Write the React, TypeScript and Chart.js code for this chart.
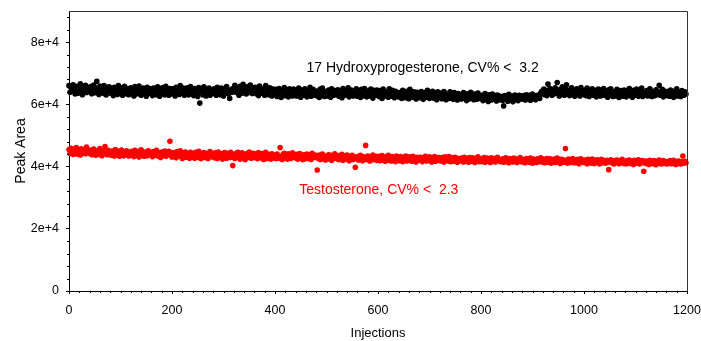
import React, { useEffect, useRef } from 'react';
import { Chart, registerables } from 'chart.js';

Chart.register(...registerables);

// Injection spacing between plotted samples
const injectionStep = 2;

// 17 Hydroxyprogesterone peak areas (one value every 2 injections, 0..1198)
const hydroxyprogesterone = [
  66000, 63900, 65400, 64200, 66300, 64700, 63300, 65800, 64900, 63600, 65100, 66600, 64000, 63100, 65500, 64400, 66100, 63800, 64800, 65300,
  64100, 65700, 63400, 64900, 66200, 63700, 65200, 67400, 64500, 63200, 65900, 64300, 65000, 63600, 66000, 64700, 63000, 65400, 64200, 65600,
  63600, 65100, 64400, 62800, 65500, 63900, 64700, 63200, 66000, 64200, 63500, 65300, 62900, 64600, 65800, 63400, 64100, 65000, 63100, 64800,
  65300, 63500, 64400, 62700, 65700, 64000, 63300, 64900, 65900, 63700, 62900, 64600, 65200, 63800, 64300, 62600, 65500, 64100, 63600, 65000,
  64300, 62800, 65200, 63900, 64700, 63100, 65600, 64000, 62600, 64900, 63500, 65400, 64200, 63000, 65800, 63700, 64500, 62900, 65100, 64400,
  63400, 65000, 64200, 62700, 65500, 63800, 64600, 63200, 66000, 64100, 63600, 65200, 62900, 64700, 63900, 65300, 63000, 64400, 65700, 63500,
  64200, 62800, 65100, 63600, 64500, 62500, 65400, 60400, 63900, 64800, 63100, 65600, 63700, 62700, 64900, 63400, 65200, 62900, 64300, 63800,
  63500, 65000, 64300, 62900, 65500, 63800, 64600, 63100, 65200, 64100, 62700, 64900, 63600, 65700, 64200, 63300, 61900, 64700, 63900, 65100,
  64800, 66100, 63900, 65300, 64400, 62900, 65800, 64700, 63600, 66400, 64100, 65000, 63300, 65600, 64500, 63800, 66200, 64900, 63500, 65400,
  64000, 65500, 63400, 64700, 62800, 65900, 64300, 63600, 65100, 64200, 62900, 66000, 63800, 64600, 63100, 65300, 64400, 62700, 64900, 63900,
  63200, 64800, 62500, 63900, 65100, 63400, 62200, 64500, 63700, 65400, 62800, 64100, 63300, 62400, 65000, 63600, 64300, 62700, 64900, 63100,
  64400, 62700, 63800, 65200, 63100, 62300, 64600, 63500, 62900, 65000, 63900, 62400, 64200, 63300, 65500, 62600, 63700, 64800, 63000, 64100,
  62800, 64300, 63600, 62200, 64900, 63100, 65200, 63800, 62500, 64100, 63300, 62700, 64600, 63900, 62300, 65000, 63400, 62900, 64400, 63700,
  63200, 64700, 62600, 64000, 63500, 62100, 65100, 63800, 62900, 64400, 63300, 65300, 62400, 63900, 64600, 63000, 62700, 64200, 63600, 65000,
  62600, 64100, 63500, 62200, 64800, 63100, 62800, 65100, 63700, 62400, 64300, 63300, 62700, 64900, 63900, 62000, 64500, 63200, 62900, 64600,
  63800, 62500, 64400, 63100, 61900, 64900, 63300, 62700, 64100, 63600, 62300, 65000, 63200, 62600, 64500, 63900, 62100, 64200, 63000, 63700,
  62400, 63800, 63000, 61900, 64500, 62700, 63400, 62100, 64200, 63300, 61800, 64800, 62900, 63600, 62300, 64000, 63100, 61700, 63900, 62600,
  63400, 62100, 64100, 62700, 61600, 63800, 62900, 62300, 64500, 63100, 61900, 63600, 62500, 64200, 62000, 63300, 62800, 61500, 64000, 62600,
  62200, 63600, 61800, 62900, 64100, 62400, 61500, 63300, 62800, 61900, 64000, 62500, 63100, 61600, 63800, 62300, 62900, 61400, 63500, 62100,
  63000, 61700, 62600, 63800, 61900, 62300, 61200, 63400, 62700, 61800, 63900, 62100, 62800, 61500, 63300, 62400, 61600, 63600, 62000, 62900,
  61800, 62900, 61200, 62500, 63500, 61600, 62200, 60900, 63100, 62000, 61400, 63300, 62400, 61700, 62800, 61100, 63000, 62300, 61500, 62600,
  62400, 61300, 59500, 62800, 61700, 62100, 61000, 63200, 62300, 61500, 62700, 60800, 62000, 63000, 61600, 62500, 61200, 62900, 61800, 62200,
  61700, 62800, 62100, 61400, 63100, 62400, 61800, 62900, 61300, 62600, 63300, 61900, 62200, 61500, 62800, 62400, 63000, 61900, 63600, 64200,
  63400, 64900, 63100, 64400, 62800, 66500, 63700, 65100, 63900, 62900, 64600, 63300, 65300, 64100, 67000, 63500, 62700, 64800, 63800, 65600,
  64200, 62900, 65100, 66300, 63600, 64500, 62800, 64000, 65300, 63300, 64700, 62600, 63900, 65000, 63500, 64300, 62700, 65400, 63800, 64100,
  63100, 64600, 62800, 65200, 63700, 62500, 64100, 63400, 65000, 62900, 63800, 64500, 62400, 63600, 64900, 63200, 62700, 64300, 63500, 65100,
  62900, 64200, 63600, 62300, 64700, 63100, 65000, 63800, 62500, 64000, 63300, 62700, 64800, 63900, 62200, 63500, 64400, 63000, 62600, 64600,
  63700, 62400, 64300, 63200, 65100, 62800, 63900, 62300, 64500, 63500, 62900, 64900, 63100, 62600, 64100, 63800, 65200, 62500, 63400, 64000,
  63000, 64400, 62700, 63800, 65000, 63300, 62500, 64100, 63600, 62800, 64700, 63200, 64000, 66100, 62900, 63500, 64800, 62400, 63700, 64200,
  62800, 64100, 63400, 62600, 64600, 63000, 63700, 62300, 64300, 63200, 65000, 62700, 63900, 63100, 62500, 64400, 63600, 62900, 64000, 63300,
];

// Testosterone peak areas (one value every 2 injections, 0..1198)
const testosterone = [
  45500, 44200, 45900, 44700, 43900, 45300, 44500, 46100, 44000, 45100, 44600, 43700, 45700, 44900, 44300, 45400, 44100, 46300, 44800, 45000,
  44200, 45300, 43800, 44900, 45600, 44000, 43600, 45100, 44700, 43900, 45800, 44400, 43500, 45000, 44600, 46400, 44100, 43800, 45200, 44500,
  44800, 43600, 45000, 44100, 43400, 45500, 44300, 43800, 44900, 43300, 44600, 45300, 44000, 43500, 44700, 43900, 45100, 44200, 43400, 44500,
  43700, 44900, 44100, 43200, 45200, 44400, 43600, 44800, 43100, 44300, 45400, 43800, 44000, 43300, 44700, 44200, 43500, 45100, 43900, 44600,
  44300, 43200, 44800, 43700, 44100, 45200, 43400, 44500, 43900, 42900, 44700, 43600, 44200, 45000, 43300, 44400, 43800, 44900, 48100, 43500,
  43100, 44500, 43700, 44000, 42800, 44800, 43400, 43900, 45100, 43200, 42600, 44300, 43600, 44700, 43000, 44100, 43500, 42700, 44600, 43800,
  44200, 43300, 42700, 44600, 43600, 43000, 44900, 43800, 42500, 44100, 43400, 44500, 42900, 43700, 44300, 42600, 43900, 44800, 43200, 43500,
  43900, 42800, 44400, 43300, 42600, 44700, 43600, 43000, 44100, 42400, 43800, 44500, 43100, 42700, 44300, 43500, 42900, 44600, 43200, 40300,
  43700, 42600, 44200, 43000, 44600, 43300, 42400, 43900, 44400, 42800, 43500, 42200, 44100, 43600, 42900, 44700, 43200, 42700, 43800, 44300,
  42900, 44000, 43400, 42500, 44500, 43100, 42800, 43700, 44200, 42300, 43600, 44600, 43000, 42600, 43900, 43300, 42400, 44100, 43500, 42800,
  43600, 42500, 44000, 43100, 42700, 46100, 43400, 42300, 43900, 44300, 42800, 43200, 42400, 44100, 43700, 42600, 43300, 44400, 42900, 43500,
  42800, 43900, 42400, 43500, 44200, 42700, 43100, 42200, 43800, 43300, 42500, 44000, 43000, 42600, 43600, 42300, 44300, 43200, 42900, 43700,
  43300, 38900, 42600, 43700, 42300, 43000, 44000, 42500, 43400, 42100, 43100, 42800, 43800, 42400, 43600, 42000, 43200, 42700, 44100, 42900,
  42500, 43500, 42200, 43100, 42700, 43900, 42000, 42900, 43400, 42400, 43700, 42600, 41900, 43200, 42800, 43600, 42300, 43000, 39800, 42700,
  43200, 42100, 42800, 43600, 42400, 41900, 43100, 42600, 46800, 42300, 43400, 42700, 41800, 43000, 42500, 43700, 42200, 42900, 43300, 42000,
  42300, 43300, 41900, 42800, 43500, 42100, 42600, 41700, 43100, 42400, 43600, 42000, 42700, 41800, 43200, 42500, 42900, 41600, 43400, 42200,
  42800, 41900, 43200, 42300, 41600, 42900, 42500, 43400, 41800, 42600, 42100, 43100, 42400, 41700, 43300, 42200, 42700, 41500, 43000, 42600,
  42100, 43000, 42500, 41600, 42900, 42200, 43300, 41800, 42600, 42000, 43100, 42400, 41500, 42800, 42300, 43200, 41700, 42700, 42100, 42900,
  42600, 41800, 42900, 42200, 41500, 43100, 42400, 41900, 42700, 43200, 41600, 42300, 42800, 41700, 42500, 43000, 42000, 41400, 42600, 42300,
  41900, 42700, 42300, 41500, 43000, 42100, 41800, 42600, 41400, 42900, 42200, 41700, 42800, 42400, 41300, 42500, 42000, 43100, 41600, 42300,
  42500, 41600, 42200, 42900, 41400, 42000, 42700, 41800, 42400, 41300, 42800, 42100, 41700, 42600, 41500, 42300, 43000, 41900, 42100, 41600,
  41700, 42500, 41400, 42200, 42800, 41600, 42000, 41200, 42600, 41900, 42300, 41500, 42700, 41800, 42100, 41300, 42400, 41900, 42900, 41600,
  42300, 41500, 42000, 41200, 42600, 41800, 42200, 41400, 42700, 41700, 41100, 42400, 41900, 42100, 41300, 42500, 41600, 42000, 42800, 41500,
  41600, 42300, 41200, 42000, 42600, 41400, 41900, 42500, 41100, 42200, 41700, 42400, 41300, 41800, 42700, 41500, 42100, 41000, 42300, 41900,
  42200, 41400, 45800, 41800, 41100, 42400, 41600, 42000, 41300, 42600, 41700, 41200, 42100, 41500, 42300, 40900, 41900, 42500, 41400, 41800,
  41300, 42100, 41700, 40900, 42300, 41500, 41900, 41100, 42400, 41600, 41000, 42000, 41400, 42200, 41800, 40800, 41600, 42300, 41200, 41900,
  41800, 41100, 42000, 41400, 39000, 41700, 42200, 41200, 41600, 40800, 41900, 41300, 42100, 41500, 40900, 41800, 41200, 42300, 41400, 41000,
  41600, 40900, 41900, 41300, 42100, 41000, 41500, 41800, 40700, 42000, 41400, 41100, 41700, 42200, 40800, 41600, 41200, 41900, 38500, 41300,
  41000, 41800, 41400, 40700, 42000, 41200, 41600, 40900, 41900, 41300, 40600, 41700, 41100, 42100, 41400, 40800, 41500, 41900, 41000, 41600,
  41500, 40800, 41700, 41100, 41900, 40900, 41400, 42000, 41200, 40700, 41600, 41000, 41800, 41300, 40800, 41500, 43400, 41100, 41700, 41200,
];

const xTicks = [0, 200, 400, 600, 800, 1000, 1200];
const yTicks = [0, 20000, 40000, 60000, 80000];
const yTickLabels = ['0', '2e+4', '4e+4', '6e+4', '8e+4'];
const xMinorStep = 20;
const yMinorStep = 4000;

const annotations = [
  { text: '17 Hydroxyprogesterone, CV% <  3.2', x: 461, y: 70400, color: '#000000' },
  { text: 'Testosterone, CV% <  2.3', x: 447, y: 31300, color: '#ff0000' },
];

const FONT = '"Liberation Sans", Arial, Helvetica, sans-serif';

const decorPlugin = {
  id: 'decor',
  afterDraw(chart: any) {
    const { ctx, chartArea: ca, scales } = chart;
    const x = scales.x;
    const y = scales.y;
    ctx.save();
    // frame top & right
    ctx.strokeStyle = '#333333';
    ctx.lineWidth = 1;
    ctx.beginPath();
    ctx.moveTo(ca.left, Math.round(ca.top) + 0.5);
    ctx.lineTo(Math.round(ca.right) + 0.5, Math.round(ca.top) + 0.5);
    ctx.lineTo(Math.round(ca.right) + 0.5, ca.bottom);
    ctx.stroke();
    // minor ticks
    ctx.strokeStyle = '#000000';
    ctx.beginPath();
    for (let v = 0; v <= x.max; v += xMinorStep) {
      if (xTicks.includes(v)) continue;
      const px = Math.round(x.getPixelForValue(v)) + 0.5;
      ctx.moveTo(px, ca.bottom);
      ctx.lineTo(px, ca.bottom + 2);
    }
    for (let v = 0; v < y.max; v += yMinorStep) {
      if (yTicks.includes(v)) continue;
      const py = Math.round(y.getPixelForValue(v)) + 0.5;
      ctx.moveTo(ca.left - 2, py);
      ctx.lineTo(ca.left, py);
    }
    ctx.stroke();
    // annotations
    ctx.font = `14px ${FONT}`;
    ctx.textAlign = 'left';
    ctx.textBaseline = 'alphabetic';
    annotations.forEach((a) => {
      ctx.fillStyle = a.color;
      ctx.fillText(a.text, x.getPixelForValue(a.x), y.getPixelForValue(a.y));
    });
    ctx.restore();
  },
};

const zeroPadding = (s: any) => {
  s.paddingTop = 0;
  s.paddingBottom = 0;
  s.paddingLeft = 0;
  s.paddingRight = 0;
};

export default function App() {
  const canvasRef = useRef<HTMLCanvasElement | null>(null);

  useEffect(() => {
    if (!canvasRef.current) return;
    const toPoints = (arr: number[]) => arr.map((v, i) => ({ x: i * injectionStep, y: v }));
    const chart = new Chart(canvasRef.current, {
      type: 'scatter',
      data: {
        datasets: [
          {
            label: '17 Hydroxyprogesterone',
            data: toPoints(hydroxyprogesterone),
            backgroundColor: '#000000',
            borderWidth: 0,
            pointRadius: 2.8,
            pointHoverRadius: 2.8,
            clip: false as any,
          },
          {
            label: 'Testosterone',
            data: toPoints(testosterone),
            backgroundColor: '#ff0000',
            borderWidth: 0,
            pointRadius: 2.8,
            pointHoverRadius: 2.8,
            clip: false as any,
          },
        ],
      },
      options: {
        animation: false,
        responsive: false,
        devicePixelRatio: 1,
        events: [],
        layout: { padding: { top: 11, right: 14, left: 0, bottom: 0 } },
        plugins: { legend: { display: false }, tooltip: { enabled: false } },
        scales: {
          x: {
            type: 'linear',
            min: 0,
            max: 1200,
            afterBuildTicks: (s: any) => { s.ticks = xTicks.map((v) => ({ value: v })); },
            afterFit: (s: any) => { s.height = 50; zeroPadding(s); },
            grid: { display: true, drawOnChartArea: false, drawTicks: true, tickLength: 3, color: '#000000' },
            border: { display: true, color: '#000000', width: 1 },
            ticks: {
              color: '#000000',
              font: { family: FONT, size: 12.5 },
              padding: 9,
              maxRotation: 0,
              autoSkip: false,
              callback: (v: any) => String(v),
            },
            title: {
              display: true,
              text: 'Injections',
              color: '#000000',
              font: { family: FONT, size: 13 },
              padding: { top: 0, bottom: 0 },
            },
          },
          y: {
            type: 'linear',
            min: 0,
            max: 90000,
            afterBuildTicks: (s: any) => { s.ticks = yTicks.map((v) => ({ value: v })); },
            afterFit: (s: any) => { s.width = 69; zeroPadding(s); },
            grid: { display: true, drawOnChartArea: false, drawTicks: true, tickLength: 3, color: '#000000' },
            border: { display: true, color: '#000000', width: 1 },
            ticks: {
              color: '#000000',
              font: { family: FONT, size: 12.5 },
              padding: 7,
              autoSkip: false,
              callback: (_v: any, i: number) => yTickLabels[i],
            },
            title: {
              display: true,
              text: 'Peak Area',
              color: '#000000',
              font: { family: FONT, size: 14 },
              padding: { top: 12.6, bottom: 0 },
            },
          },
        },
      },
      plugins: [decorPlugin],
    });
    return () => chart.destroy();
  }, []);

  return (
    <div style={{ position: 'fixed', left: 0, top: 0, width: 701, height: 341, background: '#ffffff' }}>
      <canvas ref={canvasRef} width={701} height={341} style={{ display: 'block', width: 701, height: 341 }} />
    </div>
  );
}
